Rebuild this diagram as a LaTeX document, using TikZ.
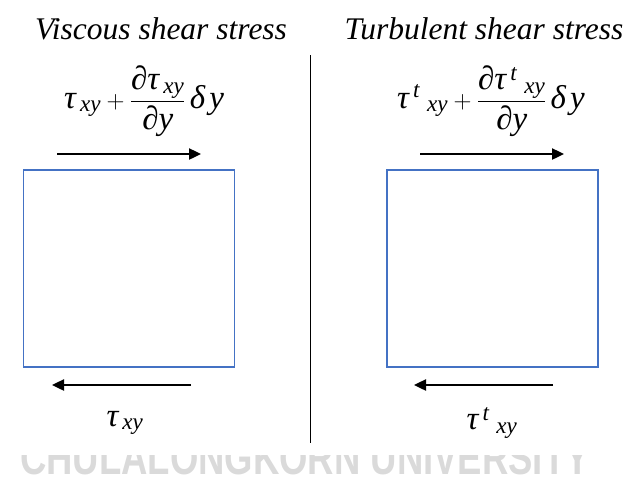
\documentclass[tikz,border=0pt]{standalone}
\usepackage{amsmath}
\usepackage{fontspec}
\setmainfont{Liberation Serif}
\newfontfamily\wmfont{Liberation Sans}
\definecolor{boxblue}{HTML}{4472C4}
\definecolor{wmgray}{HTML}{DADADA}
\usetikzlibrary{positioning,arrows.meta}
% Times-like letters for the formulas
\newcommand{\ttau}{\text{\itshape τ}}
\newcommand{\tpd}{\text{\itshape ∂}}
\newcommand{\tdl}{\text{\itshape δ}}
\newcommand{\tv}[1]{\text{\itshape #1}}

\begin{document}
\begin{tikzpicture}[x=1pt, y=-1pt,
  every node/.style={inner sep=0pt},
  title/.style={font=\fontsize{31.5}{36}\selectfont\itshape, anchor=base},
  eq/.style={font=\fontsize{33}{38}\selectfont},
  elem/.style={rectangle, draw=boxblue, line width=1.5pt,
               minimum width=211pt, minimum height=197pt},
  force/.style={-{Triangle[length=12pt,width=11pt]}, line width=2.4pt}
]
  \useasboundingbox (0,0) rectangle (625,477);

  % watermark, only its lower part shows
  \begin{scope}
    \clip (0,455) rectangle (625,477);
    \node[anchor=base west, text=wmgray, font=\wmfont\bfseries\fontsize{48}{48}\selectfont]
      (wm) at (20,474) {\scalebox{0.76}[1]{CHULALONGKORN UNIVERSITY}};
  \end{scope}

  \node[title] (vtitle) at (161,39) {Viscous shear stress};
  \node[title] (ttitle) at (484,39) {Turbulent shear stress};

  \coordinate (dtop) at (310,55);
  \coordinate (dbot) at (310,443);
  \draw[line width=1pt] (dtop) -- (dbot);

  % viscous element
  \node[elem] (visc) at (129,268.5) {};
  \node[eq] (vtop) at (144,101)
    {$\displaystyle \ttau_{\,\tv{xy}}+\frac{\tpd\ttau_{\,\tv{xy}}}{\tpd \tv{y}}\,\tdl\, \tv{y}$};
  \coordinate (vt1) at (57,154);
  \coordinate (vt2) at (201,154);
  \draw[force] (vt1) -- (vt2);
  \coordinate (vb1) at (191,385);
  \coordinate (vb2) at (52,385);
  \draw[force] (vb1) -- (vb2);
  \node[eq] (vbot) at (125,423) {$\ttau_{\,\tv{xy}}$};

  % turbulent element
  \node[elem] (turb) at (492.5,268.5) {};
  \node[eq] (ttop) at (491,101)
    {$\displaystyle \ttau^{\,\tv{t}}{}_{\;\tv{xy}}+\frac{\tpd\ttau^{\,\tv{t}}{}_{\;\tv{xy}}}{\tpd \tv{y}}\,\tdl\, \tv{y}$};
  \coordinate (tt1) at (420,154);
  \coordinate (tt2) at (564,154);
  \draw[force] (tt1) -- (tt2);
  \coordinate (tb1) at (553,385);
  \coordinate (tb2) at (414,385);
  \draw[force] (tb1) -- (tb2);
  \node[eq] (tbot) at (492,423) {$\ttau^{\,\tv{t}}{}_{\;\tv{xy}}$};
\end{tikzpicture}
\end{document}
